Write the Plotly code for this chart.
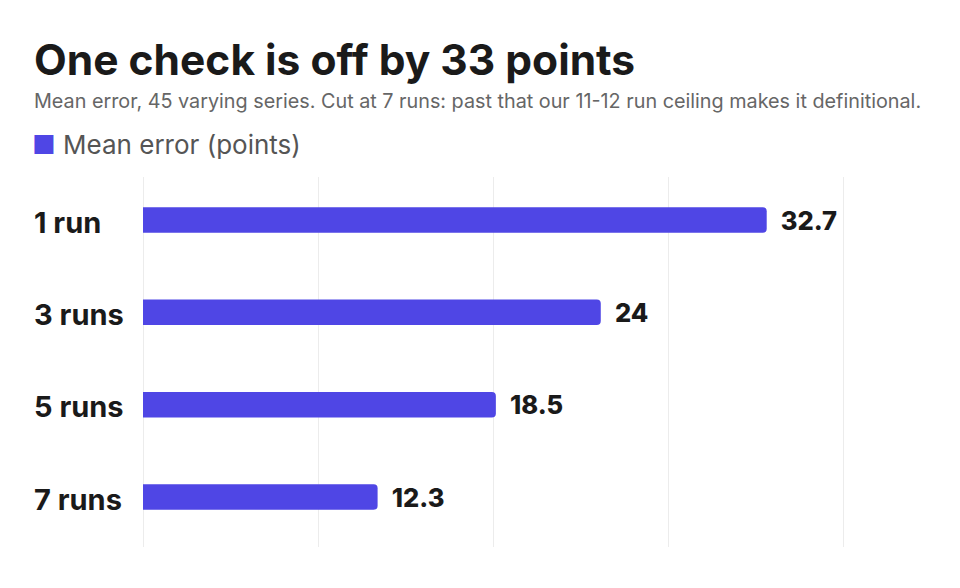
import plotly.graph_objects as go

categories = ["1 run", "3 runs", "5 runs", "7 runs"]
mean_error = [32.7, 24, 18.5, 12.3]
value_labels = ["32.7", "24", "18.5", "12.3"]

title_text = "One check is off by 33 points"
subtitle_text = "Mean error, 45 varying series. Cut at 7 runs: past that our 11-12 run ceiling makes it definitional."
legend_text = "Mean error (points)"

BAR = "#4F46E5"
FONT = "Inter"
OFF = 8      # page body margin
GPAD = 3     # extra px each side so edge gridlines are drawn
x_max = 36.7
scale = 700 / x_max  # px per unit

W, H = 960 - OFF, 588 - OFF
L, R = 143 - OFF - GPAD, 960 - 843 - GPAD
T, B = 177 - OFF, 588 - 547
PW, PH = W - L - R, H - T - B

def px_x(px):
    return (px - OFF - L) / PW

def px_y(py):
    return (H - B - (py - OFF)) / PH

# y range so category centres sit at 220 ... 497 px
cat_px = (497 - 220) / 3
y_top = -(220 - 177) / cat_px
y_bot = 3 + (547 - 497) / cat_px

fig = go.Figure()
fig.add_trace(go.Bar(
    x=mean_error,
    y=categories,
    orientation="h",
    marker=dict(color=BAR, line=dict(width=0)),
    width=0.277,
    text=["&nbsp;&nbsp;" + v for v in value_labels],
    textposition="outside",
    constraintext="none",
    textfont=dict(family=FONT, size=25.5, color="#1a1a1a", weight=800),
    cliponaxis=False,
    name=legend_text,
    showlegend=False,
    hoverinfo="skip",
))

annotations = [
    dict(text="<b>" + title_text + "</b>", x=px_x(32), y=px_y(60), xref="paper", yref="paper",
         xanchor="left", yanchor="middle", showarrow=False,
         font=dict(family=FONT, size=42.5, color="#1a1a1a")),
    dict(text=subtitle_text, x=px_x(32), y=px_y(101), xref="paper", yref="paper",
         xanchor="left", yanchor="middle", showarrow=False,
         font=dict(family=FONT, size=19.8, color="#666666")),
    dict(text='<span style="color:%s">■</span> <span style="color:#555555">%s</span>' % (BAR, legend_text),
         x=px_x(30), y=px_y(144), xref="paper", yref="paper",
         xanchor="left", yanchor="middle", showarrow=False,
         font=dict(family=FONT, size=26, color="#555555")),
]
for c in categories:
    annotations.append(dict(text="<b>" + c + "</b>", x=px_x(32), y=c, xref="paper", yref="y",
                            xanchor="left", yanchor="middle", showarrow=False, yshift=-2,
                            font=dict(family=FONT, size=29, color="#1a1a1a")))

fig.update_layout(
    width=W, height=H,
    margin=dict(l=L, r=R, t=T, b=B, pad=0),
    paper_bgcolor="white", plot_bgcolor="white",
    barcornerradius=4,
    xaxis=dict(range=[-GPAD / scale, x_max + GPAD / scale],
               tickvals=[x_max * i / 4 for i in range(5)],
               showticklabels=False,
               showgrid=True, gridcolor="#ececec", gridwidth=1, zeroline=False,
               showline=False, ticks=""),
    yaxis=dict(categoryorder="array", categoryarray=categories, range=[y_bot, y_top],
               showticklabels=False, showgrid=False, zeroline=False, showline=False, ticks=""),
    annotations=annotations,
    font=dict(family=FONT),
)

fig.write_html("out.html")
